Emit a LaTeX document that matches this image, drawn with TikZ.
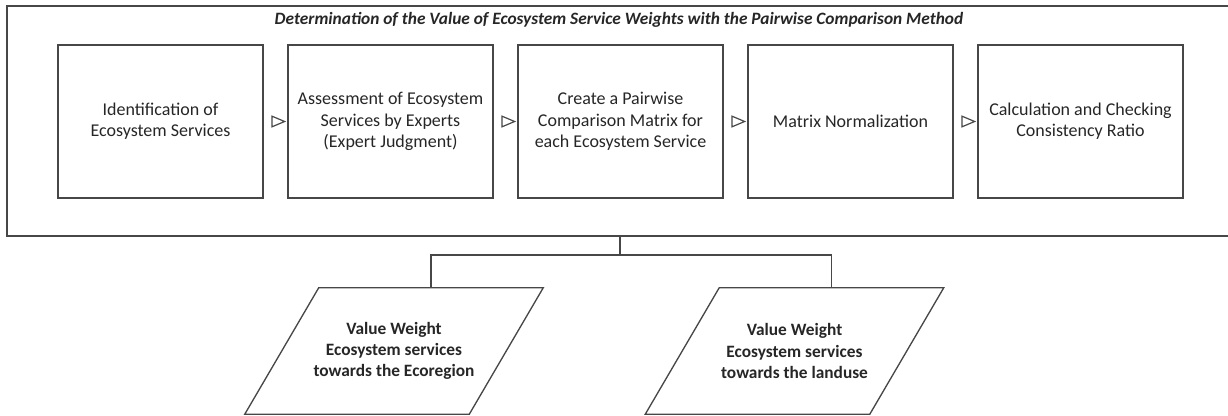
\documentclass[tikz,border=0pt]{standalone}
\usepackage{fontspec}
\setmainfont{Carlito}
\usetikzlibrary{shapes.geometric,positioning,calc}

\begin{document}
\begin{tikzpicture}[
    x=0.75pt, y=-0.75pt,
    node distance=17.75pt,
    line/.style={draw=black!72, line width=1pt},
    box/.style={rectangle, line, minimum width=153.75pt, minimum height=114.75pt, align=center, text=black!85, font=\fontsize{13.5}{16}\selectfont},
    tri/.style={isosceles triangle, isosceles triangle stretches, line, line width=0.9pt, inner sep=0pt, minimum width=8pt, minimum height=9.5pt},
    para/.style={rectangle, minimum width=168pt, minimum height=94.5pt, align=center, text=black!85, font=\bfseries\fontsize{13}{16}\selectfont}
]
\useasboundingbox (0,0) rectangle (1228,416);

% outer frame, open to the right
\draw[line] (1240,6) -- (7,6) -- (7,236) -- (1240,236);
\node[text=black!85, font=\bfseries\itshape\fontsize{13}{16}\selectfont] (title) at (619,20) {Determination of the Value of Ecosystem Service Weights with the Pairwise Comparison Method};

% steps
\node[box] (ident) at (160.5,121.5) {Identification of\\Ecosystem Services};
\node[box, right=of ident] (assess) {Assessment of Ecosystem\\Services by Experts\\(Expert Judgment)};
\node[box, right=of assess] (matrix) {Create a Pairwise\\Comparison Matrix for\\each Ecosystem Service};
\node[box, right=of matrix] (norm) {Matrix Normalization};
\node[box, right=of norm] (ratio) {Calculation and Checking\\Consistency Ratio};

\node[tri] (t1) at ($(ident.east)!0.5!(assess.west)$) {};
\node[tri] (t2) at ($(assess.east)!0.5!(matrix.west)$) {};
\node[tri] (t3) at ($(matrix.east)!0.5!(norm.west)$) {};
\node[tri] (t4) at ($(norm.east)!0.5!(ratio.west)$) {};

% results (parallelograms)
\node[para] (eco) at (394,351) {Value Weight\\Ecosystem services\\towards the Ecoregion};
\node[para] (landuse) at (794.5,351) {Value Weight\\Ecosystem services\\towards the landuse};
\foreach \p in {eco,landuse}
  \draw[line] ($(\p.south west)+(-37,0)$) -- ($(\p.north west)+(37,0)$) -- ($(\p.north east)+(37,0)$) -- ($(\p.south east)+(-37,0)$) -- cycle;

\coordinate (split) at (620,236);
\draw[line] (split) -- ++(0,19) coordinate (fork);
\draw[line] (fork) -| ($(eco.north)+(37,0)$);
\draw[line] (fork) -| ($(landuse.north)+(37,0)$);
\end{tikzpicture}
\end{document}
